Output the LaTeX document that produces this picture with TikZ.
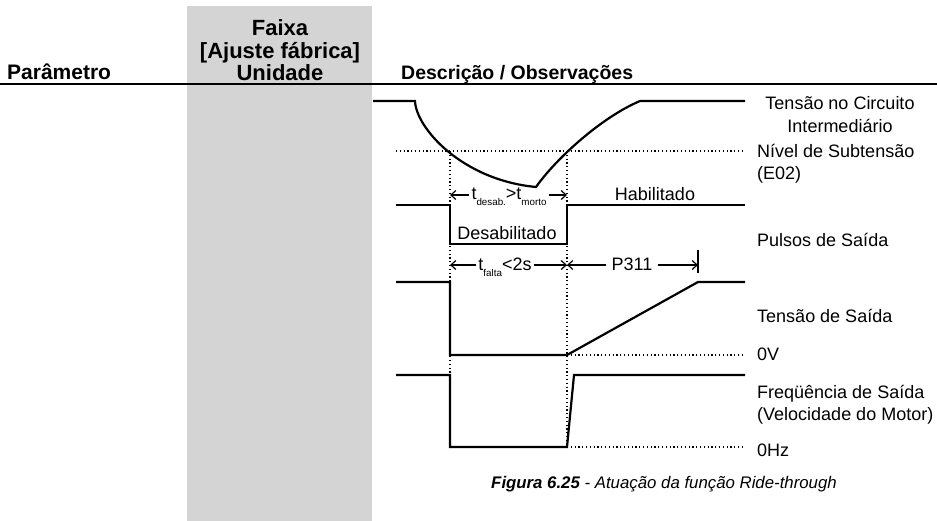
\documentclass[tikz,border=0pt]{standalone}
\usepackage{fontspec}
\setmainfont{Liberation Sans}
\usetikzlibrary{arrows.meta}
\definecolor{colgray}{RGB}{212,212,212}
\newcommand{\lowsub}[1]{\raisebox{-5.5pt}{\fontsize{9.8}{10}\selectfont #1}}
\begin{document}
\begin{tikzpicture}[x=1pt,y=-1pt,
  sig/.style={line width=2.2pt, line join=miter},
  dots/.style={line width=1.2pt, dash pattern=on 1.2pt off 2.6pt},
  head/.style={font=\fontsize{22}{23}\selectfont\bfseries, inner sep=0pt},
  lab/.style={font=\fontsize{18}{22}\selectfont, inner sep=0pt},
  dimarr/.style={line width=1.2pt, -{Straight Barb[length=5pt,width=9pt]}},
]
\useasboundingbox (0,0) rectangle (937,521);
\fill[colgray] (187,6) rectangle (372,521);
\draw[line width=1.4pt] (0,84) -- (937,84);

% headers
\node[head, font=\fontsize{21}{23}\selectfont\bfseries, anchor=base west] (hpar) at (7,80) {Parâmetro};
\node[head, anchor=base] (hfx) at (280,36) {Faixa};
\node[head, anchor=base] (haj) at (280,59) {[Ajuste fábrica]};
\node[head, anchor=base] (hun) at (280,81) {Unidade};
\node[head, font=\fontsize{19.5}{23}\selectfont\bfseries, anchor=base west] (hdesc) at (401,80) {Descrição / Observações};

% dotted reference lines
\coordinate (sub1) at (396,151); \coordinate (sub2) at (745,151);
\coordinate (va) at (450,151); \coordinate (vab) at (450,375);
\coordinate (vb) at (567,151); \coordinate (vbb) at (567,447);
\coordinate (zv1) at (567,355); \coordinate (zv2) at (745,355);
\coordinate (zh1) at (567,447); \coordinate (zh2) at (745,447);
\draw[dots] (sub1) -- (sub2);
\draw[dots] (va) -- (vab);
\draw[dots] (vb) -- (vbb);
\draw[dots] (zv1) -- (zv2);
\draw[dots] (zh1) -- (zh2);

% DC link voltage
\draw[sig] (373,101) -- (415,101) .. controls (416,128) and (462,180) .. (536,187)
  .. controls (555,160) and (600,118) .. (640,101) -- (745,101);
% output pulses
\draw[sig] (396,205) -- (450,205) -- (450,244) -- (567,244) -- (567,205) -- (745,205);
% output voltage
\draw[sig] (396,282) -- (450,282) -- (450,355) -- (567,355) -- (698,282) -- (745,282);
% output frequency
\draw[sig] (396,375) -- (450,375) -- (450,447) -- (567,447) -- (574,375) -- (745,375);

% labels on the graph
\node[lab, anchor=base] (hab) at (655,201) {Habilitado};
\node[lab, anchor=base] (des) at (507,240) {Desabilitado};

\node[lab, anchor=base, inner xsep=2pt] (tdm) at (509,200) {t\lowsub{desab.}>t\lowsub{morto}};
\coordinate (a1l) at (450,195); \coordinate (a1r) at (567,195);
\draw[dimarr] (tdm.west |- a1l) -- (a1l);
\draw[dimarr] (tdm.east |- a1r) -- (a1r);

\node[lab, anchor=base, inner xsep=2pt] (tfa) at (505,271) {t\lowsub{falta}<2s};
\node[lab, anchor=base, inner xsep=5pt] (p311) at (632,271) {P311};
\coordinate (a2l) at (450,265); \coordinate (a2m) at (567,265); \coordinate (a2r) at (698,265);
\draw[dimarr] (tfa.west |- a2l) -- (a2l);
\draw[dimarr] (tfa.east |- a2m) -- (a2m);
\draw[dimarr] (p311.west |- a2m) -- (a2m);
\draw[dimarr] (p311.east |- a2r) -- (a2r);
\coordinate (tk1) at (698,250); \coordinate (tk2) at (698,273);
\draw[line width=1.2pt] (tk1) -- (tk2);

% right-hand labels
\node[lab, anchor=base] (l1) at (840,110) {Tensão no Circuito};
\node[lab, anchor=base] (l2) at (840,133) {Intermediário};
\node[lab, anchor=base west] (l3) at (757,158) {Nível de Subtensão};
\node[lab, anchor=base west] (l4) at (757,180) {(E02)};
\node[lab, anchor=base west] (l5) at (757,247) {Pulsos de Saída};
\node[lab, anchor=base west] (l6) at (757,323) {Tensão de Saída};
\node[lab, anchor=base west] (l7) at (757,360) {0V};
\node[lab, anchor=base west] (l8) at (757,398) {Freqüência de Saída};
\node[lab, anchor=base west] (l9) at (757,420) {(Velocidade do Motor)};
\node[lab, anchor=base west] (l10) at (757,456) {0Hz};

% caption
\node[font=\fontsize{16.8}{18}\selectfont\itshape, anchor=base, inner sep=0pt] (cap) at (664,488)
  {\textbf{Figura 6.25} - Atuação da função Ride-through};
\end{tikzpicture}
\end{document}
